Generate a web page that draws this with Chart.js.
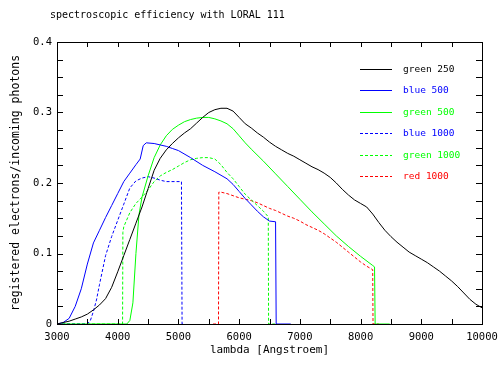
<!DOCTYPE html>
<html><head><meta charset="utf-8">
<script src="https://cdn.jsdelivr.net/npm/chart.js@4/dist/chart.umd.min.js"></script>
<style>html,body{margin:0;padding:0;background:#fff}canvas{display:block}</style>
</head><body>
<canvas id="c" width="502" height="382"></canvas>
<script>
const chartTitle = 'spectroscopic efficiency with LORAL 111';
const xTitle = 'lambda [Angstroem]';
const yTitle = 'registered electrons/incoming photons';

const lambdaGreen250 = [3000,3100,3200,3300,3400,3500,3600,3700,3800,3900,4000,4100,4200,4300,4400,4500,4600,4700,4800,4900,5000,5100,5200,5300,5400,5500,5600,5700,5800,5900,6000,6100,6200,6300,6400,6500,6600,6700,6800,6900,7000,7100,7200,7300,7400,7500,7600,7700,7800,7900,8000,8100,8200,8300,8400,8500,8600,8700,8800,8900,9000,9100,9200,9300,9400,9500,9600,9700,9800,9900,10000];
const green250 = [0.000,0.002,0.004,0.007,0.010,0.014,0.020,0.027,0.036,0.052,0.074,0.097,0.120,0.143,0.166,0.192,0.218,0.235,0.247,0.256,0.264,0.271,0.277,0.285,0.293,0.300,0.304,0.306,0.306,0.302,0.293,0.284,0.278,0.271,0.265,0.258,0.252,0.247,0.242,0.238,0.233,0.228,0.223,0.219,0.214,0.208,0.200,0.191,0.183,0.176,0.171,0.166,0.156,0.144,0.133,0.124,0.116,0.109,0.102,0.097,0.092,0.087,0.081,0.075,0.068,0.061,0.053,0.044,0.035,0.028,0.023];

const lambdaBlue500 = [3000,3100,3200,3300,3400,3500,3600,3700,3800,3900,4000,4100,4200,4300,4370,4420,4470,4600,4700,4800,4900,5000,5200,5400,5600,5800,5900,6000,6100,6200,6300,6400,6500,6600,6610,6850];
const blue500 = [0.000,0.002,0.008,0.025,0.050,0.085,0.115,0.133,0.151,0.168,0.185,0.202,0.214,0.226,0.234,0.253,0.257,0.256,0.254,0.252,0.249,0.246,0.236,0.225,0.216,0.206,0.198,0.188,0.178,0.169,0.160,0.152,0.146,0.145,0.000,0.000];

const lambdaGreen500 = [3000,4150,4200,4250,4300,4350,4400,4500,4600,4700,4800,4900,5000,5100,5200,5300,5400,5500,5600,5700,5800,5900,6000,6100,6200,6400,6600,6800,7000,7200,7400,7600,7800,8000,8200,8230,8240,8480];
const green500 = [0.000,0.000,0.005,0.030,0.100,0.155,0.180,0.210,0.236,0.254,0.267,0.276,0.282,0.287,0.290,0.292,0.293,0.293,0.291,0.288,0.284,0.277,0.267,0.257,0.248,0.231,0.213,0.195,0.177,0.159,0.142,0.125,0.110,0.096,0.083,0.081,0.000,0.000];

const lambdaBlue1000 = [3000,3500,3550,3600,3650,3700,3800,3900,4000,4100,4200,4300,4400,4500,4600,4700,4800,5050,5060,5100];
const blue1000 = [0.000,0.000,0.005,0.018,0.034,0.056,0.097,0.124,0.147,0.170,0.193,0.203,0.207,0.209,0.207,0.204,0.202,0.202,0.000,0.000];

const lambdaGreen1000 = [3000,4080,4085,4100,4200,4300,4400,4500,4600,4700,4800,4900,5000,5100,5200,5300,5400,5500,5600,5700,5800,5900,6000,6100,6200,6300,6400,6480,6485,6590];
const green1000 = [0.000,0.000,0.130,0.138,0.158,0.171,0.180,0.190,0.202,0.210,0.215,0.219,0.224,0.229,0.233,0.235,0.236,0.236,0.234,0.226,0.215,0.206,0.195,0.184,0.176,0.168,0.160,0.152,0.000,0.000];

const lambdaRed1000 = [5570,5660,5665,5700,5800,5900,6000,6100,6200,6300,6400,6500,6600,6700,6800,6900,7000,7100,7200,7300,7400,7500,7600,7700,7800,7900,8000,8100,8200,8205,8300];
const red1000 = [0.000,0.000,0.187,0.187,0.185,0.182,0.179,0.177,0.175,0.172,0.168,0.164,0.161,0.157,0.153,0.150,0.146,0.141,0.137,0.133,0.128,0.122,0.116,0.109,0.102,0.095,0.088,0.082,0.077,0.000,0.000];

const xTickValues = [3000,4000,5000,6000,7000,8000,9000,10000];
const yTickValues = [0,0.1,0.2,0.3,0.4];

function pts(xs, ys){ return xs.map((x,i)=>({x:x, y:ys[i]})); }
function ds(label, xs, ys, color, dashed){
  return {label, data: pts(xs, ys), borderColor: color, backgroundColor: color,
    borderWidth: 1, borderDash: dashed ? [3,2] : [], pointRadius: 0, tension: 0, fill: false};
}

const MONO = '"DejaVu Sans Mono", monospace';

const framePlugin = {
  id: 'frame',
  afterDatasetsDraw(chart){
    const {ctx, chartArea: a, scales} = chart;
    ctx.save();
    ctx.strokeStyle = '#000'; ctx.lineWidth = 1;
    ctx.strokeRect(Math.round(a.left)+0.5, Math.round(a.top)+0.5, Math.round(a.right-a.left), Math.round(a.bottom-a.top));
    ctx.beginPath();
    scales.x.ticks.forEach(t=>{
      const px = Math.round(scales.x.getPixelForValue(t.value))+0.5;
      ctx.moveTo(px, a.bottom); ctx.lineTo(px, a.bottom-5);
      ctx.moveTo(px, a.top); ctx.lineTo(px, a.top+5);
    });
    scales.y.ticks.forEach(t=>{
      const py = Math.round(scales.y.getPixelForValue(t.value))+0.5;
      ctx.moveTo(a.left, py); ctx.lineTo(a.left+6, py);
      ctx.moveTo(a.right, py); ctx.lineTo(a.right-6, py);
    });
    ctx.stroke();
    // titles
    ctx.fillStyle = '#000';
    ctx.font = '10px ' + MONO;
    ctx.textAlign = 'left'; ctx.textBaseline = 'middle';
    ctx.fillText(chartTitle, 50, 15);
    ctx.font = '11px ' + MONO;
    ctx.textAlign = 'center';
    ctx.fillText(xTitle, (a.left+a.right)/2, 350);
    ctx.save();
    ctx.translate(16, (a.top+a.bottom)/2);
    ctx.rotate(-Math.PI/2);
    ctx.font = '11.5px ' + MONO;
    ctx.fillText(yTitle, 0, 0);
    ctx.restore();
    // legend
    ctx.font = '9.5px ' + MONO;
    ctx.textAlign = 'left';
    chart.data.datasets.forEach((d,i)=>{
      const y = Math.round(69 + i*21.4)+0.5;
      ctx.strokeStyle = d.borderColor;
      ctx.setLineDash(d.borderDash || []);
      ctx.beginPath(); ctx.moveTo(360, y); ctx.lineTo(392, y); ctx.stroke();
      ctx.setLineDash([]);
      ctx.fillStyle = d.borderColor;
      ctx.fillText(d.label, 403, y);
    });
    ctx.restore();
  }
};

new Chart(document.getElementById('c'), {
  type: 'line',
  data: { datasets: [
    ds('green 250', lambdaGreen250, green250, '#000000', false),
    ds('blue 500', lambdaBlue500, blue500, '#0000ff', false),
    ds('green 500', lambdaGreen500, green500, '#00ff00', false),
    ds('blue 1000', lambdaBlue1000, blue1000, '#0000ff', true),
    ds('green 1000', lambdaGreen1000, green1000, '#00ff00', true),
    ds('red 1000', lambdaRed1000, red1000, '#ff0000', true)
  ]},
  options: {
    responsive: false, animation: false, devicePixelRatio: 1,
    layout: { padding: { top: 42, right: 20, left: 0, bottom: 0 } },
    plugins: { legend: { display: false }, title: { display: false }, tooltip: { enabled: false } },
    scales: {
      x: { type: 'linear', min: 3000, max: 10000,
        afterFit(s){ s.height = 58; s.paddingLeft = 0; s.paddingRight = 0; },
        afterBuildTicks(s){ const t=[]; for(let v=3000; v<=10000; v+=500) t.push({value:v}); s.ticks = t; },
        grid: { display: false, drawTicks: false }, border: { display: false },
        ticks: { autoSkip: false, maxRotation: 0, padding: 7, color: '#000',
          font: { family: MONO, size: 10.5 },
          callback: (v)=> xTickValues.includes(v) ? String(v) : '' } },
      y: { type: 'linear', min: 0, max: 0.4,
        afterFit(s){ s.width = 57; s.paddingTop = 0; s.paddingBottom = 0; },
        afterBuildTicks(s){ const t=[]; for(let k=0; k<=16; k++) t.push({value: k*0.025}); s.ticks = t; },
        grid: { display: false, drawTicks: false }, border: { display: false },
        ticks: { autoSkip: false, padding: 5, color: '#000',
          font: { family: MONO, size: 10.5 },
          callback: (v)=> { const m = yTickValues.find(u=>Math.abs(u-v)<1e-9); return m===undefined ? '' : (m===0 ? '0' : m.toFixed(1)); } } }
    }
  },
  plugins: [framePlugin]
});
</script>
</body></html>
